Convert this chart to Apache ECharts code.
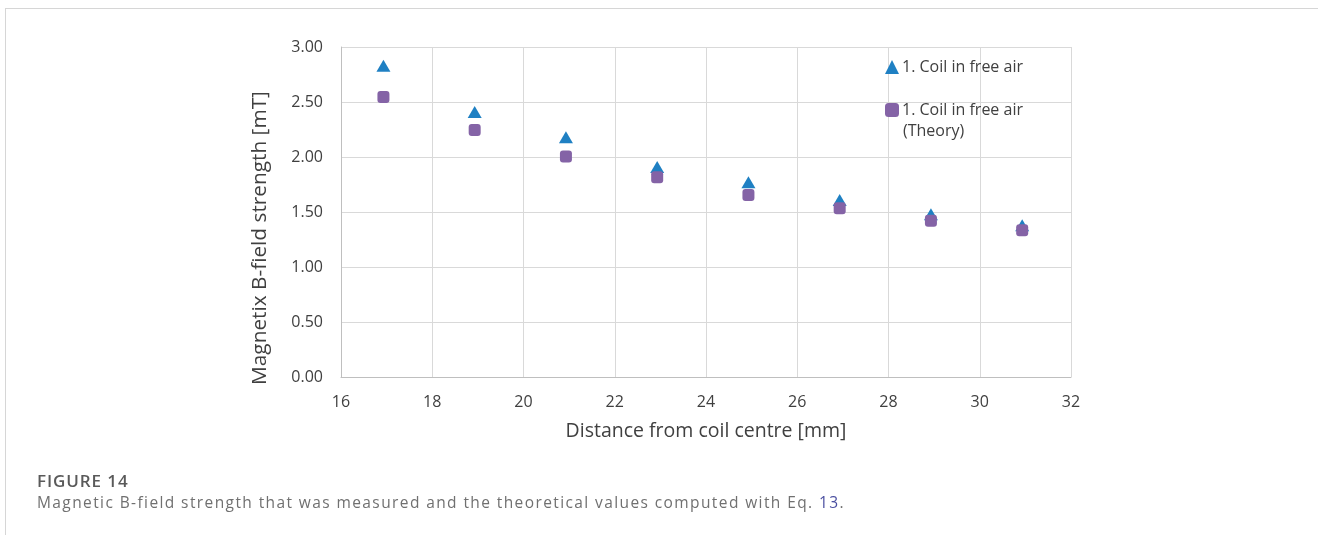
<!DOCTYPE html>
<html><head><meta charset="utf-8">
<script src="https://cdn.jsdelivr.net/npm/echarts@6/dist/echarts.min.js"></script>
<style>
html,body{margin:0;padding:0;background:#fff;}
#frame{position:absolute;left:5px;top:8px;width:1400px;height:600px;border-left:1px solid #d6d6d6;border-top:1px solid #d6d6d6;}
#chart{position:absolute;left:0;top:0;width:1318px;height:535px;}
#cap1{position:absolute;left:37px;top:472px;font-family:"Open Sans",sans-serif;font-size:17px;line-height:17px;font-weight:600;color:#5a5a5a;letter-spacing:0.9px;white-space:nowrap;}
#cap2{position:absolute;left:37px;top:495px;font-family:"Open Sans",sans-serif;font-size:15.5px;line-height:15.5px;font-weight:400;color:#707070;letter-spacing:1.4px;white-space:nowrap;}
#cap2 span{color:#4a4ea0;}
</style></head>
<body>
<div id="frame"></div>
<div id="chart"></div>
<div id="cap1">FIGURE 14</div>
<div id="cap2">Magnetic B-field strength that was measured and the theoretical values computed with Eq. <span>13</span>.</div>
<script>
const distances = [16.93, 18.93, 20.93, 22.93, 24.93, 26.93, 28.93, 30.93];
const measured = [2.83, 2.41, 2.18, 1.91, 1.77, 1.61, 1.48, 1.38];
const theory = [2.545, 2.245, 2.005, 1.815, 1.655, 1.535, 1.42, 1.335];
const seriesNames = ['1. Coil in free air', '1. Coil in free air (Theory)'];
const legendLines = ['1. Coil in free air', '1. Coil in free air', '(Theory)'];

const chart = echarts.init(document.getElementById('chart'));
const font = '"Open Sans", sans-serif';
chart.setOption({
  animation: false,
  textStyle: {fontFamily: font},
  grid: {left: 341, top: 47, right: 247, bottom: 158},
  xAxis: {
    type: 'value', min: 16, max: 32, interval: 2,
    name: 'Distance from coil centre [mm]', nameLocation: 'middle', nameGap: 44,
    nameTextStyle: {fontSize: 19.5, color: '#404040', fontFamily: font},
    axisLine: {lineStyle: {color: '#bfbfbf', width: 1}},
    axisTick: {show: false},
    axisLabel: {fontSize: 16, color: '#404040', margin: 17, fontFamily: font},
    splitLine: {show: true, lineStyle: {color: '#d9d9d9', width: 1}}
  },
  yAxis: {
    type: 'value', min: 0, max: 3, interval: 0.5,
    name: 'Magnetix B-field strength [mT]', nameLocation: 'middle', nameGap: 70,
    nameTextStyle: {fontSize: 20.8, color: '#404040', fontFamily: font, padding: [0, 52, 0, 0]},
    axisLine: {show: true, lineStyle: {color: '#bfbfbf', width: 1}},
    axisTick: {show: false},
    axisLabel: {fontSize: 16, color: '#404040', margin: 18, fontFamily: font,
      formatter: v => v.toFixed(2)},
    splitLine: {show: true, lineStyle: {color: '#d9d9d9', width: 1}}
  },
  legend: {
    orient: 'vertical', left: 885, top: 59, itemGap: 27,
    itemWidth: 14, itemHeight: 14, padding: 0,
    textStyle: {fontSize: 16, color: '#404040', fontFamily: font, padding: [0,0,0,-2]},
    formatter: name => name === seriesNames[0] ? legendLines[0] : legendLines[1],
    data: [
      {name: seriesNames[0], icon: 'triangle'},
      {name: seriesNames[1], icon: 'roundRect'}
    ]
  },
  graphic: [{
    type: 'text', left: 903, top: 123,
    style: {text: legendLines[2], font: '16px "Open Sans", sans-serif', fill: '#404040'}
  }],
  series: [
    {
      name: seriesNames[0], type: 'scatter', symbol: 'triangle', symbolSize: [14, 12],
      itemStyle: {color: '#1f80c3', opacity: 1},
      data: distances.map((d, i) => [d, measured[i]]), z: 2
    },
    {
      name: seriesNames[1], type: 'scatter', symbol: 'roundRect', symbolSize: 12,
      itemStyle: {color: '#8463a6', opacity: 1},
      data: distances.map((d, i) => [d, theory[i]]), z: 3
    }
  ]
});
</script>
</body></html>
